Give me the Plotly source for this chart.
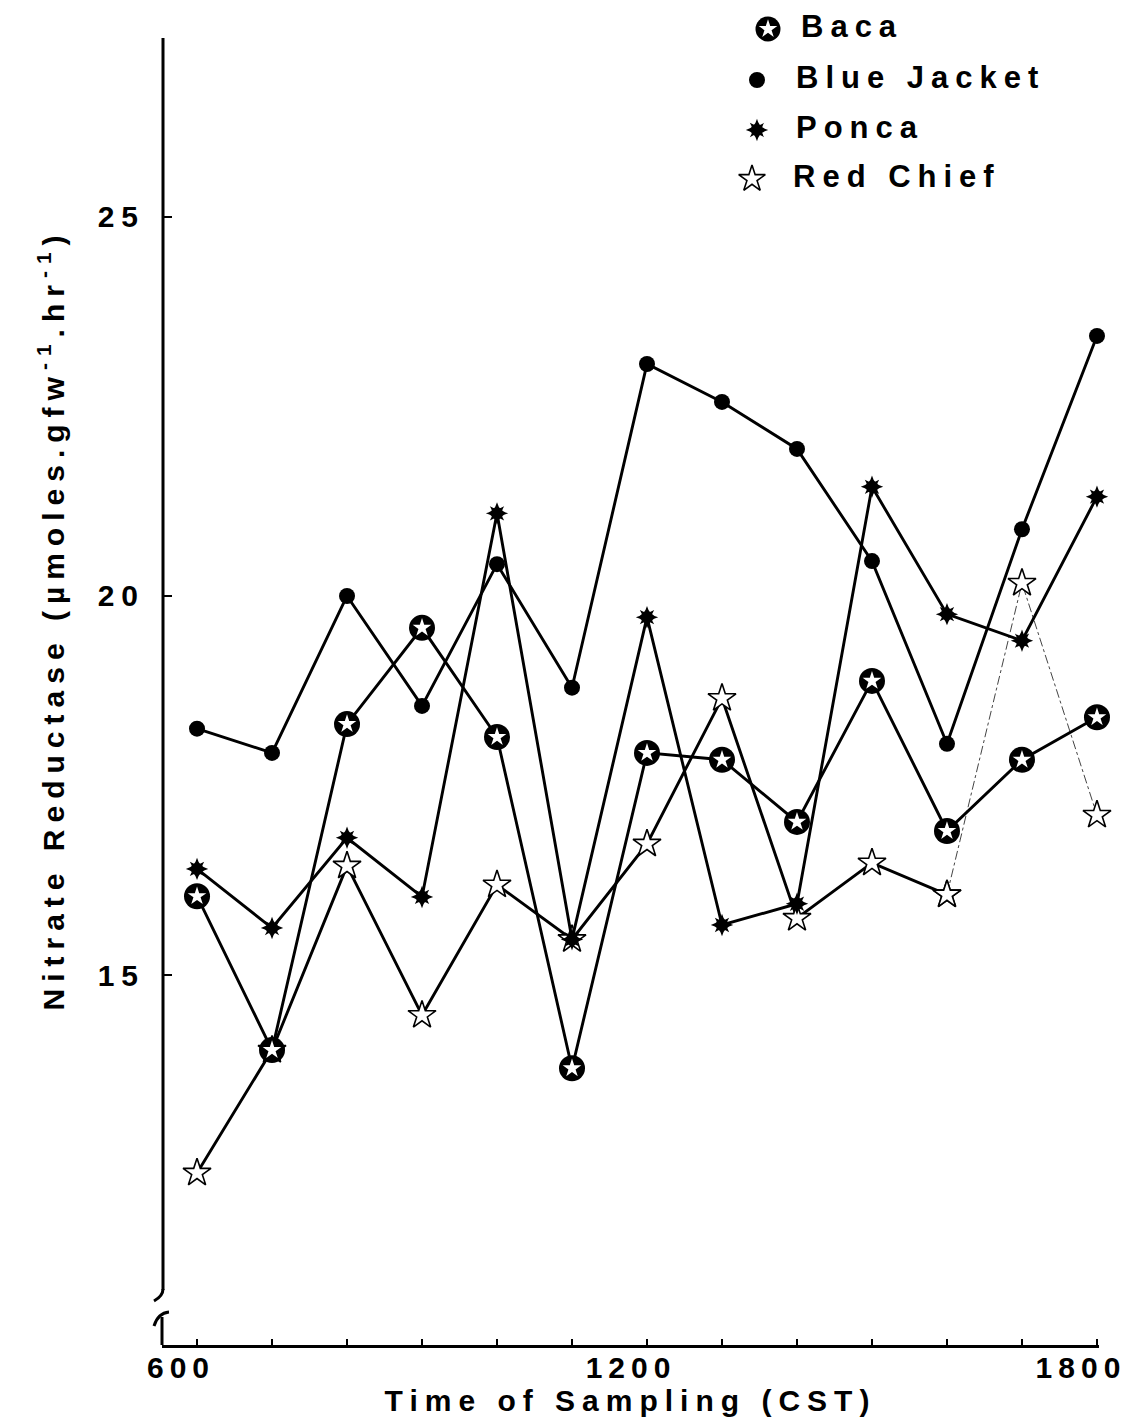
import plotly.graph_objects as go

# ---------------- data ----------------
times = [600, 700, 800, 900, 1000, 1100, 1200, 1300, 1400, 1500, 1600, 1700, 1800]
baca = [16.04, 14.01, 18.31, 19.58, 18.14, 13.77, 17.93, 17.84, 17.02, 18.88, 16.90, 17.84, 18.40]
blue_jacket = [18.25, 17.93, 20.00, 18.55, 20.42, 18.79, 23.06, 22.56, 21.94, 20.46, 18.05, 20.88, 23.43]
ponca = [16.40, 15.62, 16.81, 16.03, 21.09, 15.47, 19.72, 15.66, 15.94, 21.44, 19.76, 19.41, 21.31]
red_chief = [12.39, 14.01, 16.44, 14.47, 16.19, 15.47, 16.73, 18.65, 15.75, 16.48, 16.06, 20.17, 17.11]
series_names = ["Baca", "Blue Jacket", "Ponca", "Red Chief"]
x_tick_vals = [600, 1200, 1800]
x_tick_text = ["600", "1200", "1800"]
y_tick_vals = [15, 20, 25]
y_tick_text = ["15", "20", "25"]
x_title = "Time of Sampling (CST)"
y_title = "Nitrate Reductase (µmoles.gfw<sup>-1</sup>.hr<sup>-1</sup>)"

W, H = 1130, 1423
FONT = "Liberation Sans, Arial, Helvetica, sans-serif"
BLACK = "black"
LW = 2.9

# plot-area box in page pixels
PL, PR, PT, PB = 162, 1099, 38, 1345

fig = go.Figure()

# Red Chief (solid part, then thin dash-dot tail)
n_solid = 11
fig.add_trace(go.Scatter(
    x=times[:n_solid], y=red_chief[:n_solid], mode="lines+markers", name=series_names[3],
    line=dict(color=BLACK, width=LW),
    marker=dict(symbol="star", size=21, color="white", line=dict(color=BLACK, width=1.6)),
    cliponaxis=False, showlegend=False))
fig.add_trace(go.Scatter(
    x=times[n_solid - 1:], y=red_chief[n_solid - 1:], mode="lines+markers", name=series_names[3],
    line=dict(color="#444", width=1, dash="dashdot"),
    marker=dict(symbol="star", size=21, color="white", line=dict(color=BLACK, width=1.6)),
    cliponaxis=False, showlegend=False))

# Ponca
fig.add_trace(go.Scatter(
    x=times, y=ponca, mode="lines+markers", name=series_names[2],
    line=dict(color=BLACK, width=LW),
    marker=dict(symbol="star-diamond", size=16, color=BLACK, line=dict(width=0)),
    cliponaxis=False, showlegend=False))
fig.add_trace(go.Scatter(
    x=times, y=ponca, mode="markers", name=series_names[2],
    marker=dict(symbol="star-square", size=13, color=BLACK, line=dict(width=0)),
    cliponaxis=False, showlegend=False, hoverinfo="skip"))

# Blue Jacket
fig.add_trace(go.Scatter(
    x=times, y=blue_jacket, mode="lines+markers", name=series_names[1],
    line=dict(color=BLACK, width=LW),
    marker=dict(symbol="circle", size=16, color=BLACK, line=dict(width=0)),
    cliponaxis=False, showlegend=False))

# Baca
fig.add_trace(go.Scatter(
    x=times, y=baca, mode="lines+markers", name=series_names[0],
    line=dict(color=BLACK, width=LW),
    marker=dict(symbol="circle", size=26, color=BLACK, line=dict(width=0)),
    cliponaxis=False, showlegend=False))
fig.add_trace(go.Scatter(
    x=times, y=baca, mode="markers", name=series_names[0],
    marker=dict(symbol="star", size=14, color="white", line=dict(width=0)),
    cliponaxis=False, showlegend=False, hoverinfo="skip"))

# ---------------- custom legend (page-pixel overlay axes x2/y2) ----------------
leg_mx = [768, 757, 757, 752]
leg_y = [29, 80, 130, 179]
leg_tx = [801, 796, 796, 793]
fig.add_trace(go.Scatter(x=[leg_mx[0]], y=[leg_y[0]], xaxis="x2", yaxis="y2", mode="markers",
                         marker=dict(symbol="circle", size=25, color=BLACK), cliponaxis=False,
                         showlegend=False, hoverinfo="skip"))
fig.add_trace(go.Scatter(x=[leg_mx[0]], y=[leg_y[0]], xaxis="x2", yaxis="y2", mode="markers",
                         marker=dict(symbol="star", size=14, color="white"), cliponaxis=False,
                         showlegend=False, hoverinfo="skip"))
fig.add_trace(go.Scatter(x=[leg_mx[1]], y=[leg_y[1]], xaxis="x2", yaxis="y2", mode="markers",
                         marker=dict(symbol="circle", size=16, color=BLACK), cliponaxis=False,
                         showlegend=False, hoverinfo="skip"))
fig.add_trace(go.Scatter(x=[leg_mx[2]], y=[leg_y[2]], xaxis="x2", yaxis="y2", mode="markers",
                         marker=dict(symbol="star-diamond", size=16, color=BLACK), cliponaxis=False,
                         showlegend=False, hoverinfo="skip"))
fig.add_trace(go.Scatter(x=[leg_mx[2]], y=[leg_y[2]], xaxis="x2", yaxis="y2", mode="markers",
                         marker=dict(symbol="star-square", size=13, color=BLACK), cliponaxis=False,
                         showlegend=False, hoverinfo="skip"))
fig.add_trace(go.Scatter(x=[leg_mx[3]], y=[leg_y[3]], xaxis="x2", yaxis="y2", mode="markers",
                         marker=dict(symbol="star", size=20, color="white", line=dict(color=BLACK, width=1.6)),
                         cliponaxis=False, showlegend=False, hoverinfo="skip"))
fig.add_trace(go.Scatter(x=leg_tx, y=leg_y, xaxis="x2", yaxis="y2", mode="text",
                         text=series_names, textposition="middle right",
                         textfont=dict(family=FONT, size=31, color=BLACK, weight="bold"),
                         cliponaxis=False, showlegend=False, hoverinfo="skip"))

# y-axis title
annotations = [dict(x=51, y=620, xref="x2", yref="y2", text=y_title, textangle=-90,
                    showarrow=False, xanchor="center", yanchor="middle",
                    font=dict(family=FONT, size=30, color=BLACK, weight="bold"))]

# y-axis line with break marks (page pixels)
shapes = [
    dict(type="line", xref="x2", yref="y2", x0=163, x1=163, y0=PT, y1=1290,
         line=dict(color=BLACK, width=3)),
    dict(type="path", xref="x2", yref="y2", path="M 163,1289 Q 163,1296 154,1301",
         line=dict(color=BLACK, width=3)),
    dict(type="path", xref="x2", yref="y2", path="M 154,1326 Q 158,1313 169,1312",
         line=dict(color=BLACK, width=3)),
    dict(type="line", xref="x2", yref="y2", x0=162, x1=162, y0=1317, y1=PB,
         line=dict(color=BLACK, width=3)),
]

fig.update_layout(
    template="none",
    width=W, height=H,
    margin=dict(l=0, r=0, t=0, b=0, pad=0),
    paper_bgcolor="white", plot_bgcolor="rgba(0,0,0,0)",
    font=dict(family=FONT, size=30, color=BLACK, weight="bold"),
    xaxis=dict(
        domain=[PL / W, PR / W], anchor="y", automargin=False,
        range=[553.3, 1802.7], tickmode="array", tickvals=x_tick_vals, ticktext=x_tick_text,
        ticks="inside", ticklen=6, tickwidth=2, tickcolor=BLACK,
        ticklabelshift=-16, ticklabelstandoff=-6,
        minor=dict(dtick=100, tick0=600, ticks="inside", ticklen=6, tickwidth=2, tickcolor=BLACK,
                   showgrid=False),
        showline=True, linecolor=BLACK, linewidth=3, showgrid=False, zeroline=False,
        tickfont=dict(family=FONT, size=30, color=BLACK, weight="bold"),
        title=dict(text=x_title, standoff=2,
                   font=dict(family=FONT, size=30, color=BLACK, weight="bold")),
    ),
    yaxis=dict(
        domain=[(H - PB) / H, (H - PT) / H], anchor="x", automargin=False,
        range=[10.12, 27.36], tickmode="array", tickvals=y_tick_vals, ticktext=y_tick_text,
        ticks="inside", ticklen=10, tickwidth=2, tickcolor=BLACK,
        showline=False, showgrid=False, zeroline=False, ticklabelstandoff=16,
        tickfont=dict(family=FONT, size=30, color=BLACK, weight="bold"),
    ),
    xaxis2=dict(domain=[0, 1], range=[0, W], visible=False, anchor="y2", showgrid=False,
                zeroline=False),
    yaxis2=dict(domain=[0, 1], range=[H, 0], visible=False, anchor="x2", showgrid=False,
                zeroline=False),
    annotations=annotations,
    shapes=shapes,
    showlegend=False,
)

post = """
var gd = document.getElementById('{plot_id}');
if (gd) {
  gd.querySelectorAll('text').forEach(function(t){ t.style.letterSpacing = '7px'; });
  gd.querySelectorAll('g.xtick text').forEach(function(t){ t.style.letterSpacing = '6px'; });
}
"""
fig.write_html("out.html", post_script=post)
